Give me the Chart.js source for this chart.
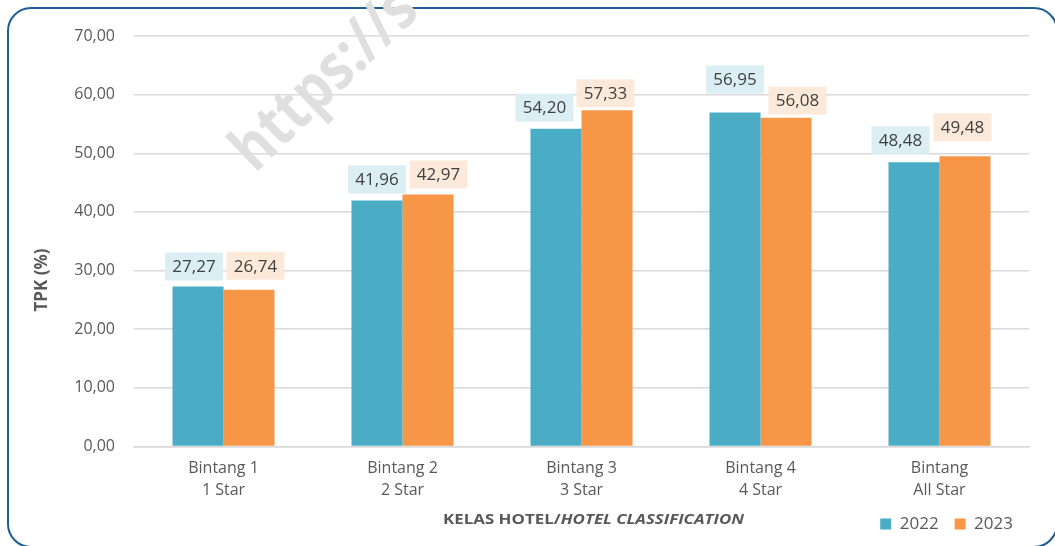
<!DOCTYPE html>
<html>
<head>
<meta charset="utf-8">
<script src="https://cdn.jsdelivr.net/npm/chart.js@4.4.1/dist/chart.umd.min.js"></script>
<style>
  html, body { margin: 0; padding: 0; background: #ffffff; }
  #wrap { position: relative; width: 1055px; height: 546px; overflow: hidden; }
  #frame { position: absolute; left: 7px; top: 7px; width: 1051px; height: 541px; box-sizing: border-box;
           border: 2.5px solid #1d5e96; border-radius: 24px; pointer-events: none; }
  canvas { position: absolute; left: 0; top: 0; }
</style>
</head>
<body>
<div id="wrap">
  <div id="frame"></div>
  <canvas id="c" width="1055" height="546"></canvas>
</div>
<script>
// ---- data ----
const categories = [['Bintang 1', '1 Star'], ['Bintang 2', '2 Star'], ['Bintang 3', '3 Star'], ['Bintang 4', '4 Star'], ['Bintang', 'All Star']];
const seriesNames = ['2022', '2023'];
const values2022 = [27.27, 41.96, 54.20, 56.95, 48.48];
const values2023 = [26.74, 42.97, 57.33, 56.08, 49.48];
const yTickLabels = ['0,00', '10,00', '20,00', '30,00', '40,00', '50,00', '60,00', '70,00'];
const yTitle = 'TPK (%)';
const xTitleMain = 'KELAS HOTEL/';
const xTitleItalic = 'HOTEL CLASSIFICATION';
const watermarkText = 'https://s';

Chart.defaults.font.family = "'Open Sans', sans-serif";
Chart.defaults.color = '#595959';

const fmt = v => v.toFixed(2).replace('.', ',');

const labelPlugin = {
  id: 'boxLabels',
  afterDatasetsDraw(chart, args, opts) {
    const ctx = chart.ctx;
    ctx.save();
    ctx.font = '17px "Open Sans"';
    ctx.textAlign = 'center';
    ctx.textBaseline = 'middle';
    chart.data.datasets.forEach((ds, di) => {
      const meta = chart.getDatasetMeta(di);
      meta.data.forEach((bar, i) => {
        const off = opts.offsets[di][i];
        const w = 58, h = 28;
        const cx = bar.x + off[0];
        const bottom = bar.y - off[1];
        ctx.fillStyle = opts.bg[di];
        ctx.fillRect(cx - w / 2, bottom - h, w, h);
        ctx.fillStyle = '#404040';
        ctx.fillText(fmt(ds.data[i]), cx, bottom - h / 2 + 1);
      });
    });
    ctx.restore();
  }
};

const decorPlugin = {
  id: 'decor',
  beforeDatasetsDraw(chart) {
    const ctx = chart.ctx;
    ctx.save();
    ctx.translate(255, 174);
    ctx.rotate(-44 * Math.PI / 180);
    ctx.scale(0.86, 1);
    ctx.font = 'bold 63px "Open Sans"';
    ctx.fillStyle = '#dfdfdf';
    ctx.textBaseline = 'alphabetic';
    ctx.fillText(watermarkText, 0, 0);
    ctx.restore();
  },
  afterDraw(chart) {
    const ctx = chart.ctx;
    ctx.save();
    ctx.fillStyle = '#595959';
    // y title
    ctx.save();
    ctx.translate(42, 280);
    ctx.rotate(-Math.PI / 2);
    ctx.font = 'bold 17px "Open Sans"';
    ctx.textAlign = 'center';
    ctx.textBaseline = 'middle';
    ctx.fillText(yTitle, 0, 0);
    ctx.restore();
    // x title
    const f1 = 'bold 15px "Open Sans"';
    const f2 = 'italic bold 15px "Open Sans"';
    ctx.font = f1; const w1 = ctx.measureText(xTitleMain).width;
    ctx.font = f2; const w2 = ctx.measureText(xTitleItalic).width;
    const target = 301;
    const sx = target / (w1 + w2);
    ctx.save();
    ctx.translate(593.5 - target / 2, 520);
    ctx.scale(sx, 1);
    ctx.textBaseline = 'middle';
    ctx.textAlign = 'left';
    ctx.font = f1; ctx.fillText(xTitleMain, 0, 0);
    ctx.font = f2; ctx.fillText(xTitleItalic, w1, 0);
    ctx.restore();
    ctx.restore();
  }
};

new Chart(document.getElementById('c'), {
  type: 'bar',
  data: {
    labels: categories,
    datasets: [
      { label: seriesNames[0], data: values2022, backgroundColor: '#4bacc6', barPercentage: 1, categoryPercentage: 0.57 },
      { label: seriesNames[1], data: values2023, backgroundColor: '#f79646', barPercentage: 1, categoryPercentage: 0.57 }
    ]
  },
  options: {
    responsive: false,
    animation: false,
    layout: { padding: { left: 0, right: 26, top: 36, bottom: 3.5 } },
    plugins: {
      tooltip: { enabled: false },
      legend: {
        position: 'bottom',
        align: 'end',
        labels: { boxWidth: 11, boxHeight: 11, padding: 16, font: { size: 17 }, color: '#595959' }
      },
      boxLabels: {
        bg: ['#daeef3', '#fde9d9'],
        offsets: [
          [[-4, 6], [0, 7], [-11.5, 7], [0, 19], [-13.5, 8]],
          [[6.5, 10], [10.5, 6], [-1.5, 3], [11.5, 3], [-2.5, 15]]
        ]
      }
    },
    scales: {
      x: {
        grid: { display: false, drawTicks: false },
        border: { display: true, color: '#d9d9d9', width: 1.5 },
        ticks: { padding: 10.5, font: { size: 16, lineHeight: 1.375 }, color: '#595959', maxRotation: 0 },
        afterFit(scale) { scale.height = 53; }
      },
      y: {
        min: 0, max: 70,
        grid: { color: '#d9d9d9', lineWidth: 1.5, drawTicks: false },
        border: { display: false },
        ticks: {
          stepSize: 10, padding: 19, font: { size: 16 }, color: '#595959',
          callback: (v, i) => yTickLabels[i]
        },
        afterFit(scale) { scale.width = 134; }
      }
    }
  },
  plugins: [labelPlugin, decorPlugin]
});
</script>
</body>
</html>
